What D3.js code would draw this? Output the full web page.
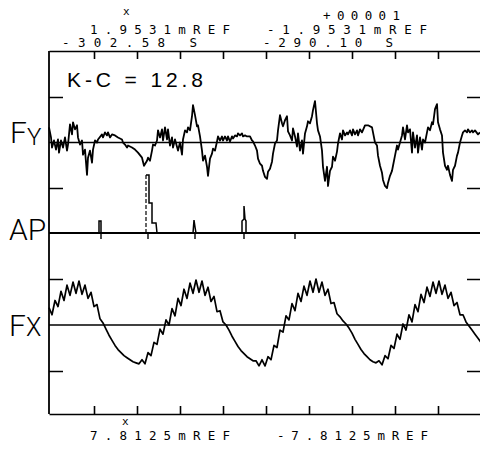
<!DOCTYPE html>
<html>
<head>
<meta charset="utf-8">
<script src="https://cdn.jsdelivr.net/npm/d3@7"></script>
<style>
  body { margin: 0; background: #fff; }
  svg { display: block; }
</style>
</head>
<body>
<div class="chart"></div>
<script>
// Fy trace: time (ms from left frame) and force
const fyTime = [0,2,3,5,7,9,10,12,14,16,18,19,21,23,24,26,28,29,31,33,34,36,38,39,41,43,44,46,48,49,53,54,56,58,59,61,63,66,69,73,74,76,78,79,83,86,89,93,95,98,99,101,103,104,106,108,109,111,113,114,116,118,119,121,123,124,126,129,131,133,134,136,138,139,141,
  143,144,146,148,149,151,153,154,156,158,159,161,163,164,166,168,169,171,173,174,176,178,179,181,183,184,186,188,189,191,193,194,196,198,201,203,204,206,208,209,211,213,214,216,218,219,221,223,224,226,228,229,231,233,234,236,238,239,241,243,244,246,248,249,251,253,254,256,258,259,261,263,264,266,268,269,271,273,274,276,278,279,281,283,284,286,288,289,291,
  293,294,296,298,299,301,303,304,306,308,309,311,313,316,319,323,324,326,328,329,331,333,334,336,338,339,341,343,344,346,348,349,351,353,354,356,358,359,361,363,364,366,368,369,371,373,374,376,378,379,381,383,384,386,388,389,391,393,394,396,398,399,401,403,404,406,408,409,411,413,414,416,418,419,421,423,424,426,429,431];
const fyForce = [15,5,-5,2,-7,3,-10,2,-5,5,-8,-2,18,8,20,13,17,5,-2,2,-12,-7,-32,-15,-8,-20,-7,2,0,3,8,5,10,7,10,5,8,7,5,3,0,-2,-5,-3,-5,-7,-10,-15,-23,-18,-15,-18,-8,-2,-3,2,12,5,13,2,15,3,13,-3,5,-5,3,-8,0,-12,3,12,10,15,12,
  26,37,27,16,17,6,-8,-18,-13,-24,-33,-16,-11,-6,-8,1,6,2,6,2,6,2,6,1,6,4,7,6,9,7,9,6,7,6,6,2,1,-3,-8,-16,-21,-23,-28,-34,-36,-29,-26,-19,-11,-1,2,12,27,19,16,22,26,11,7,2,14,6,-4,9,-8,2,-11,9,16,21,19,26,32,41,19,12,6,-8,-24,-38,-24,-43,-28,-24,-14,-18,-9,-1,9,
  3,12,7,10,8,12,7,13,8,12,7,13,10,17,17,15,10,0,-3,-13,-23,-30,-37,-43,-45,-40,-33,-28,-23,-13,-3,-7,0,7,15,3,17,10,13,-10,10,-5,7,-10,5,-7,3,0,10,15,12,20,18,33,38,20,13,7,-10,-23,-27,-23,-32,-38,-27,-23,-13,-10,0,7,10,12,10,13,10,12,10,12,8,10];

// AP trace: baseline with short pulses (null = pen lift, the rise is drawn dashed)
const apTime  = [0,50,50,52,52,97,97,97,100,100,103,103,107,108,144,145,146,147,193,193,195,195,196,197,197,432];
const apValue = [0,0,12,12,0,0,null,58,58,30,30,10,10,0,0,13,6,0,0,12,14,27,14,12,0,0];
const apRiseTime = [97,97];
const apRiseValue = [0,58];
const apMarks = [52,99,146,195,246];

// Fx trace: one reading every 3 ms
const fxStep = 3;
const fxForce = [17,10,24,18,33,24,39,29,42,31,43,30,39,26,32,18,20,6,2,-4,-10,-15,-20,-24,-27,-30,-32,-34,-36,-37,-38,-34,-38,-27,-30,-17,-19,-4,-9,5,0,16,9,26,19,35,26,41,31,44,32,43,29,37,23,28,13,14,3,0,
  -5,-11,-16,-21,-25,-28,-31,-33,-35,-35,-40,-34,-40,-31,-34,-20,-22,-5,-7,9,5,21,14,31,23,38,29,43,32,45,32,42,29,35,21,22,11,8,4,1,
  -3,-8,-14,-19,-24,-28,-31,-34,-36,-37,-35,-39,-30,-33,-20,-23,-9,-14,1,-5,10,3,20,13,30,22,37,28,42,31,43,30,39,26,32,19,22,10,10,3,-1,-5,-9,-13,-17];

// tick positions
const xTicks = [45,88,131,174,217,260,303,346,389];
const yTicks = [-45,45];

// header / footer texts
const topLabels = [
  {text: "x", x: 123, y: 15, len: null},
  {text: "1.9531mREF", x: 90, y: 34, len: 140},
  {text: "-302.58 S", x: 62, y: 47, len: 135},
  {text: "+00001", x: 323, y: 20, len: 77},
  {text: "-1.9531mREF", x: 267, y: 34, len: 160},
  {text: "-290.10 S", x: 263, y: 47, len: 130},
  {text: "x", x: 122, y: 425, len: null},
  {text: "7.8125mREF", x: 90, y: 440, len: 140},
  {text: "-7.8125mREF", x: 277, y: 440, len: 151}
];

const width = 480, height = 456;
const frameLeft = 49, frameTop = 51, frameBottom = 414, frameRight = 481;

const svg = d3.select(".chart").append("svg")
    .attr("width", width)
    .attr("height", height);

const x = d3.scaleLinear().domain([0, 432]).range([frameLeft, frameRight]);
const yFy = d3.scaleLinear().domain([-45, 45]).range([188, 97]);
const yAp = d3.scaleLinear().domain([0, 60]).range([233, 173]);
const yFx = d3.scaleLinear().domain([-45, 45]).range([371, 279]);

// frame: top and bottom rulers with ticks
svg.append("g")
    .attr("transform", `translate(0,${frameTop})`)
    .call(d3.axisBottom(x).tickValues(xTicks).tickSize(8).tickSizeOuter(0).tickFormat(""))
    .call(g => g.selectAll("path,line").attr("stroke", "#000").attr("stroke-width", 1.6));

svg.append("g")
    .attr("transform", `translate(0,${frameBottom})`)
    .call(d3.axisTop(x).tickValues(xTicks).tickSize(8).tickSizeOuter(0).tickFormat(""))
    .call(g => g.selectAll("path,line").attr("stroke", "#000").attr("stroke-width", 1.6));

svg.append("line")
    .attr("x1", frameLeft).attr("x2", frameLeft)
    .attr("y1", frameTop).attr("y2", frameBottom)
    .attr("stroke", "#000").attr("stroke-width", 1.8);

// y ticks on both sides for Fy and Fx
[yFy, yFx].forEach(s => {
  svg.append("g")
      .attr("transform", `translate(${frameLeft},0)`)
      .call(d3.axisRight(s).tickValues(yTicks).tickSize(14).tickFormat(""))
      .call(g => g.select(".domain").remove())
      .call(g => g.selectAll("line").attr("stroke", "#000").attr("stroke-width", 1.5));
  svg.append("g")
      .attr("transform", `translate(${frameRight},0)`)
      .call(d3.axisLeft(s).tickValues(yTicks).tickSize(14).tickFormat(""))
      .call(g => g.select(".domain").remove())
      .call(g => g.selectAll("line").attr("stroke", "#000").attr("stroke-width", 1.5));
});

// zero lines
[[yFy, 0, 1.4], [yAp, 0, 2], [yFx, 0, 1.4]].forEach(([s, v, w]) => {
  svg.append("line")
      .attr("x1", frameLeft).attr("x2", frameRight)
      .attr("y1", s(v)).attr("y2", s(v))
      .attr("stroke", "#000").attr("stroke-width", w);
});

// AP event marks under the baseline
svg.selectAll(".apmark")
  .data(apMarks)
  .enter().append("line")
    .attr("class", "apmark")
    .attr("x1", d => x(d)).attr("x2", d => x(d))
    .attr("y1", yAp(0)).attr("y2", yAp(0) + 6)
    .attr("stroke", "#000").attr("stroke-width", 1.4);

const lineOf = (ts, vs, s) => d3.line()
    .defined(d => d != null)
    .x((d, i) => x(ts[i]))
    .y(d => s(d))(vs);

svg.append("path")
    .attr("d", lineOf(fyTime, fyForce, yFy))
    .attr("fill", "none").attr("stroke", "#000")
    .attr("stroke-width", 1.8).attr("stroke-linejoin", "round");

svg.append("path")
    .attr("d", lineOf(apTime, apValue, yAp))
    .attr("fill", "none").attr("stroke", "#000")
    .attr("stroke-width", 1.5);

svg.append("path")
    .attr("d", lineOf(apRiseTime, apRiseValue, yAp))
    .attr("fill", "none").attr("stroke", "#000")
    .attr("stroke-width", 1.2).attr("stroke-dasharray", "4,2");

const fxTime = fxForce.map((d, i) => i * fxStep);
svg.append("path")
    .attr("d", lineOf(fxTime, fxForce, yFx))
    .attr("fill", "none").attr("stroke", "#000")
    .attr("stroke-width", 1.7).attr("stroke-linejoin", "round");

// channel labels
const lab = svg.append("g")
    .attr("font-family", "Roboto, 'Open Sans', sans-serif")
    .attr("font-weight", 300)
    .attr("fill", "#000");

const fy = lab.append("text").attr("x", 10).attr("y", 143).attr("font-size", 30).text("F");
fy.append("tspan").attr("font-size", 24).attr("dy", 2).text("Y");

lab.append("text").attr("x", 9).attr("y", 240).attr("font-size", 30).text("AP");

const fx = lab.append("text").attr("x", 9).attr("y", 336).attr("font-size", 30).text("F");
fx.append("tspan").attr("font-size", 25).text("X");

// K-C annotation
svg.append("text")
    .attr("x", 67).attr("y", 87)
    .attr("font-family", "'Liberation Sans', Arial, sans-serif")
    .attr("font-size", 21)
    .attr("textLength", 136)
    .attr("lengthAdjust", "spacing")
    .text("K-C = 12.8");

// plotter header / footer
svg.selectAll(".hdr")
  .data(topLabels)
  .enter().append("text")
    .attr("class", "hdr")
    .attr("x", d => d.x).attr("y", d => d.y)
    .attr("font-family", "'DejaVu Sans Mono', monospace")
    .attr("font-size", d => d.text === "x" ? 11 : 12.5)
    .attr("textLength", d => d.len)
    .attr("lengthAdjust", "spacing")
    .text(d => d.text);
</script>
</body>
</html>
